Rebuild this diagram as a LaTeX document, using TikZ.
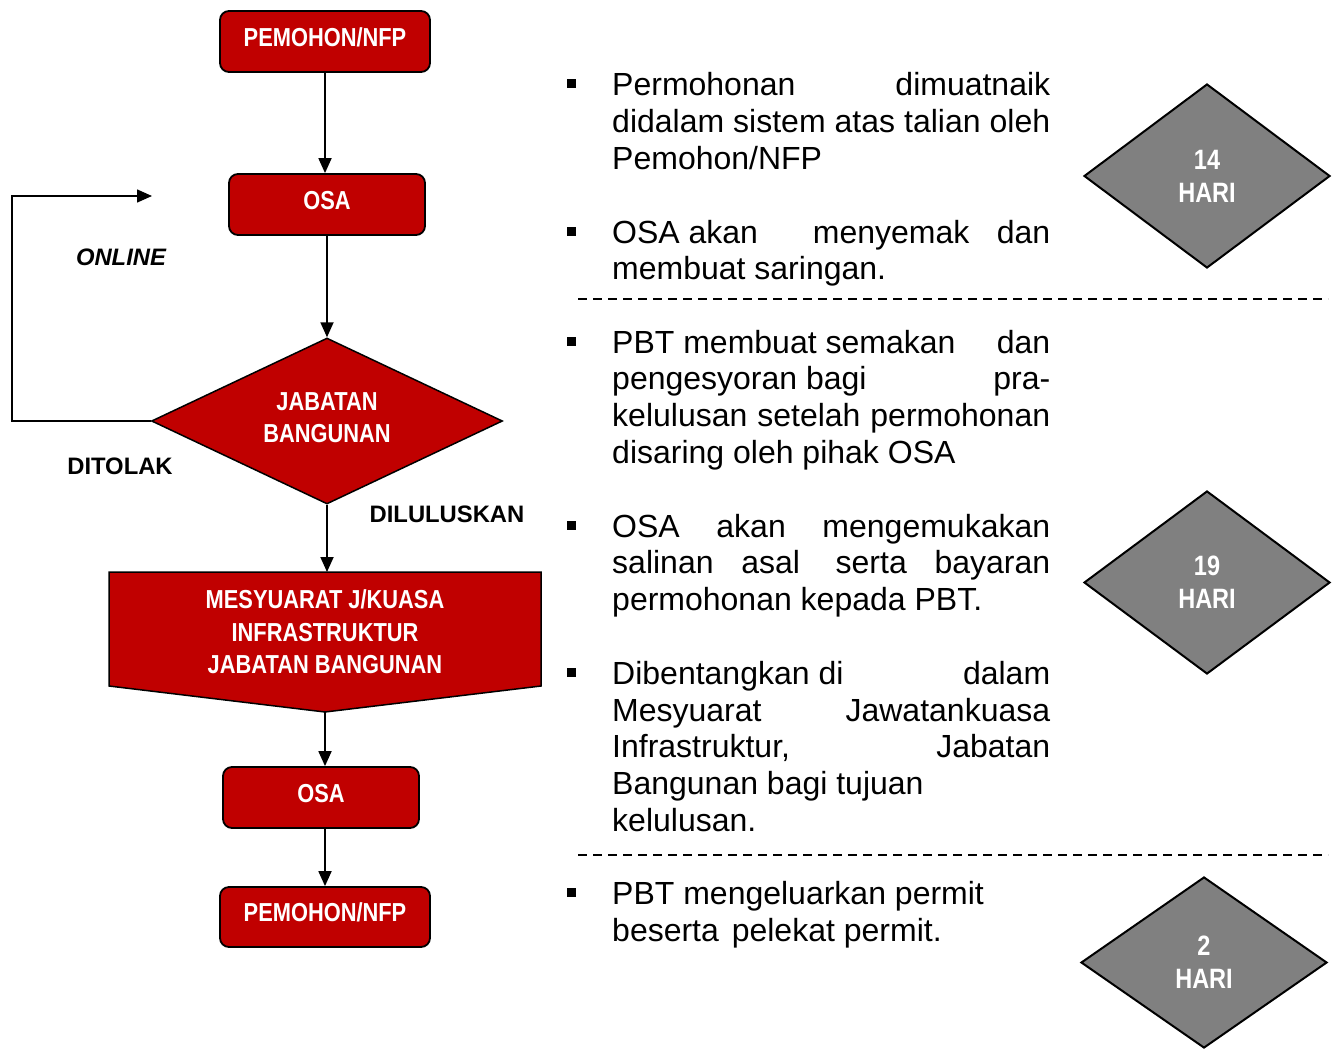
\documentclass[tikz,border=0pt]{standalone}
\usepackage{fontspec}
\setmainfont{Liberation Sans}
\newfontfamily\narrowb[FakeStretch=0.84]{Liberation Sans}
\usetikzlibrary{shapes.geometric,arrows.meta}
\definecolor{boxred}{HTML}{C00000}
\definecolor{daygray}{HTML}{808080}
\begin{document}
\begin{tikzpicture}[x=1pt,y=-1pt,
  redbox/.style={draw=black,line width=1.8pt,fill=boxred,rounded corners=9pt,text=white,
    font=\narrowb\bfseries\fontsize{26}{30}\selectfont,inner sep=0pt,text depth=9pt},
  reddiamond/.style={diamond,draw=black,line width=1.5pt,fill=boxred,inner sep=0pt},
  whitetext/.style={text=white,align=center,inner sep=0pt,font=\narrowb\bfseries\fontsize{26}{32}\selectfont},
  graydiamond/.style={diamond,draw=black,line width=2pt,fill=daygray,text=white,align=center,
    inner sep=0pt,font=\narrowb\bfseries\fontsize{28}{33}\selectfont},
  flowarrow/.style={line width=1.8pt,-{Triangle[length=15pt,width=13pt]}},
  lbl/.style={font=\bfseries\fontsize{23.8}{28}\selectfont,inner sep=0pt},
  bodytext/.style={anchor=base west,inner sep=0pt,font=\fontsize{32}{37}\selectfont},
  bulletsq/.style={fill=black,minimum size=9pt,inner sep=0pt},
  sepline/.style={line width=1.6pt,dash pattern=on 9pt off 6pt}
]
\useasboundingbox (0,0) rectangle (1332,1060);

% ---------- flowchart ----------
\node[redbox,minimum width=210pt,minimum height=61pt] (pem1) at (325,41.5) {PEMOHON/NFP};
\node[redbox,minimum width=196pt,minimum height=61pt] (osa1) at (327,204.5) {OSA};
\node[reddiamond,minimum width=351pt,minimum height=166pt] (jb) at (327,421) {};
\node[whitetext] (jbtext) at (327,418) {JABATAN\\BANGUNAN};
\draw[line width=1.5pt,fill=boxred] (109,572) -- (541,572) -- (541,686) -- (325,712) -- (109,686) -- cycle;
\node[whitetext,font=\narrowb\bfseries\fontsize{26}{32.5}\selectfont]
  (mes) at (325,632) {MESYUARAT J/KUASA\\INFRASTRUKTUR\\JABATAN BANGUNAN};
\coordinate (mestop) at (327,572);
\coordinate (mesbot) at (325,712);
\node[redbox,minimum width=196pt,minimum height=61pt] (osa2) at (321,797.5) {OSA};
\node[redbox,minimum width=210pt,minimum height=60pt] (pem2) at (325,917) {PEMOHON/NFP};

\draw[flowarrow] (pem1.south) -- (pem1.south |- osa1.north);
\draw[flowarrow] (osa1.south) -- (jb.north);
\draw[flowarrow] (jb.south) -- (mestop);
\draw[flowarrow] (mesbot) -- (mesbot |- osa2.north);
\draw[flowarrow] (pem2.north |- osa2.south) -- (pem2.north);

\coordinate (onlineend) at (152,196);
\draw[line width=1.5pt,-{Triangle[length=15pt,width=13pt]}] (jb.west) -- ++(-139,0) |- (onlineend);

\node[lbl,font=\bfseries\itshape\fontsize{23.8}{28}\selectfont] (online) at (121,257) {ONLINE};
\node[lbl] (ditolak) at (120,466) {DITOLAK};
\node[lbl] (lulus) at (447,514) {DILULUSKAN};

% ---------- day diamonds ----------
\node[graydiamond,minimum width=246pt,minimum height=184pt] (d14) at (1207,176) {14\\HARI};
\node[graydiamond,minimum width=246pt,minimum height=183pt] (d19) at (1207,582.5) {19\\HARI};
\node[graydiamond,minimum width=246pt,minimum height=171pt] (d2) at (1204,962.5) {2\\HARI};

% ---------- separators ----------
\coordinate (s1a) at (578,299); \coordinate (s1b) at (1328,299);
\coordinate (s2a) at (578,855); \coordinate (s2b) at (1328,855);
\draw[sepline] (s1a) -- (s1b);
\draw[sepline] (s2a) -- (s2b);

% ---------- bullets ----------
\node[bulletsq] (b1) at (571,83) {};
\node[bulletsq] (b2) at (571,231) {};
\node[bulletsq] (b3) at (571,341) {};
\node[bulletsq] (b4) at (571,525) {};
\node[bulletsq] (b5) at (571,672) {};
\node[bulletsq] (b6) at (571,892) {};

% ---------- body text ----------
\node[bodytext] (t11) at (612,95) {\makebox[438pt][s]{Permohonan\hfill dimuatnaik}};
\node[bodytext] (t12) at (612,132) {\makebox[438pt][s]{didalam sistem atas talian oleh}};
\node[bodytext] (t13) at (612,169) {Pemohon/NFP};

\node[bodytext] (t21) at (612,243) {\makebox[438pt][s]{OSA akan\hfill\hfill menyemak\hfill dan}};
\node[bodytext] (t22) at (612,279) {membuat saringan.};

\node[bodytext] (t31) at (612,353) {\makebox[438pt][s]{PBT membuat semakan\hfill dan}};
\node[bodytext] (t32) at (612,389) {\makebox[438pt][s]{pengesyoran bagi\hfill pra-}};
\node[bodytext] (t33) at (612,426) {\makebox[438pt][s]{kelulusan setelah permohonan}};
\node[bodytext] (t34) at (612,463) {disaring oleh pihak OSA};

\node[bodytext] (t41) at (612,537) {\makebox[438pt][s]{OSA akan mengemukakan}};
\node[bodytext] (t42) at (612,573) {\makebox[438pt][s]{salinan asal\hspace{8pt} serta bayaran}};
\node[bodytext] (t43) at (612,610) {permohonan kepada PBT.};

\node[bodytext] (t51) at (612,684) {\makebox[438pt][s]{Dibentangkan di\hfill dalam}};
\node[bodytext] (t52) at (612,721) {\makebox[438pt][s]{Mesyuarat\hfill Jawatankuasa}};
\node[bodytext] (t53) at (612,757) {\makebox[438pt][s]{Infrastruktur,\hfill Jabatan}};
\node[bodytext] (t54) at (612,794) {Bangunan bagi tujuan};
\node[bodytext] (t55) at (612,831) {kelulusan.};

\node[bodytext] (t61) at (612,904) {PBT mengeluarkan permit};
\node[bodytext] (t62) at (612,941) {beserta\hspace{4pt} pelekat permit.};
\end{tikzpicture}
\end{document}
